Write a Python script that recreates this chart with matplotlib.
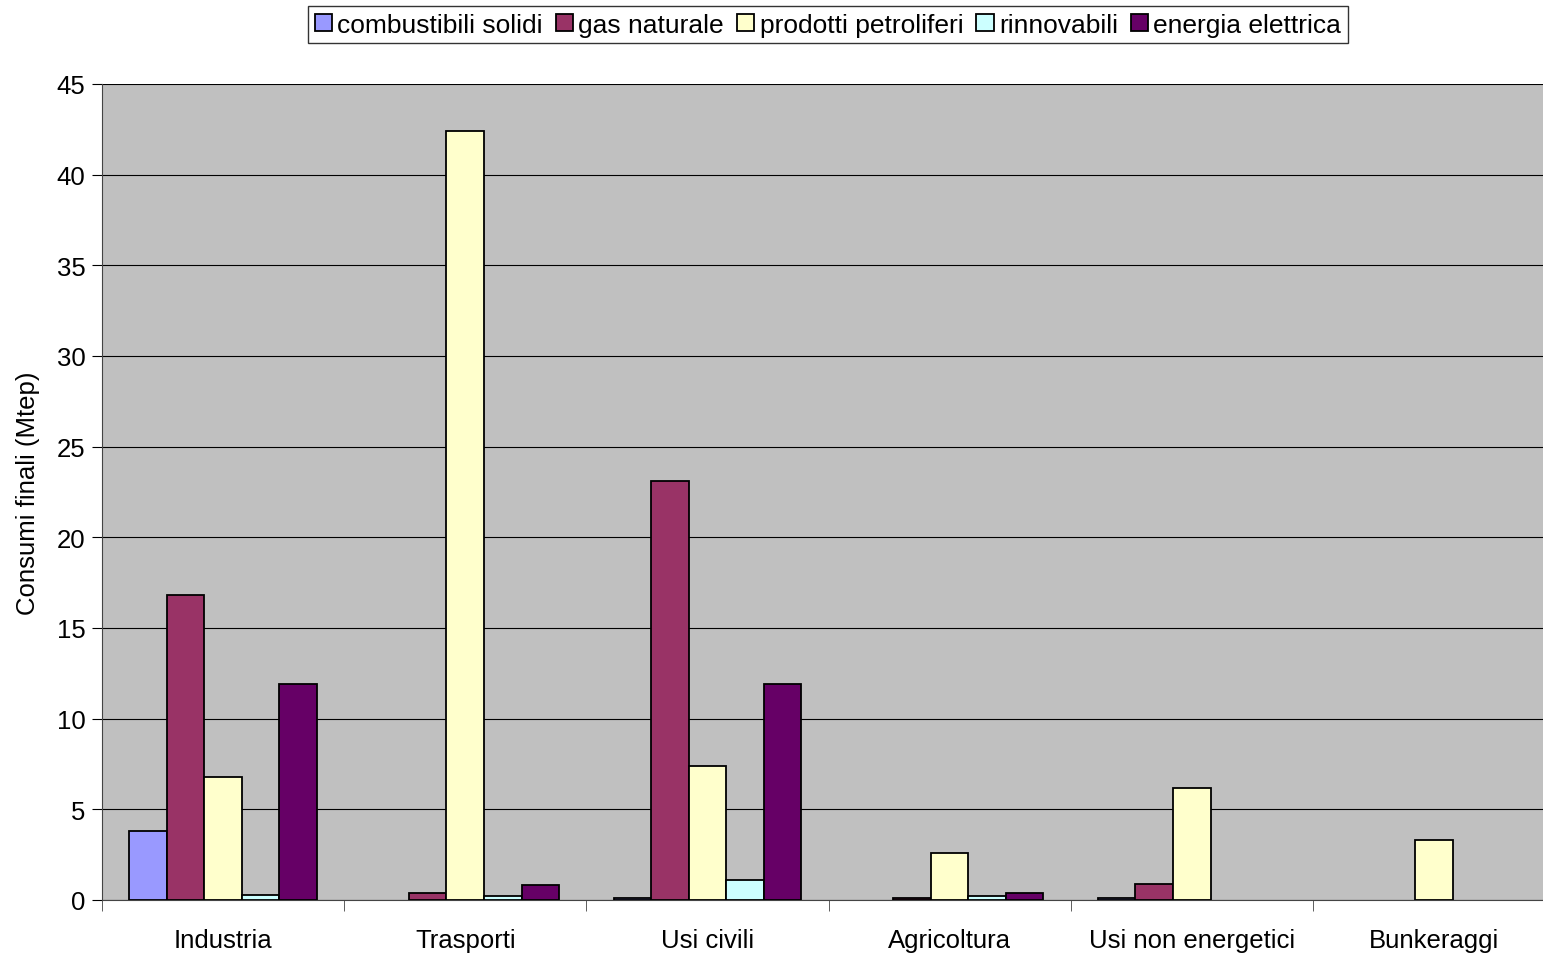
import numpy as np
from matplotlib import pyplot as plt

plt.rcParams['font.family'] = ['Liberation Sans', 'DejaVu Sans']

settori = ['Industria', 'Trasporti', 'Usi civili', 'Agricoltura',
           'Usi non energetici', 'Bunkeraggi']
fonti = ['combustibili solidi', 'gas naturale', 'prodotti petroliferi',
         'rinnovabili', 'energia elettrica']
combustibili_solidi = [3.8, 0.0, 0.1, 0.0, 0.1, 0.0]
gas_naturale = [16.8, 0.4, 23.1, 0.1, 0.9, 0.0]
prodotti_petroliferi = [6.8, 42.4, 7.4, 2.6, 6.2, 3.3]
rinnovabili = [0.3, 0.2, 1.1, 0.2, 0.0, 0.0]
energia_elettrica = [11.9, 0.8, 11.9, 0.4, 0.0, 0.0]
colori = ['#9999FF', '#993366', '#FFFFCC', '#CCFFFF', '#660066']

serie = [combustibili_solidi, gas_naturale, prodotti_petroliferi,
         rinnovabili, energia_elettrica]

fig = plt.figure(figsize=(15.43, 9.54), dpi=100)
# l'area del grafico continua oltre il bordo destro, come nell'originale
ax = fig.add_axes([102 / 1543, 53 / 954, 1453 / 1543, 816 / 954])
ax.set_facecolor('#C0C0C0')

x = np.arange(len(settori))
w = 1 / 6.45
for i, (vals, nome, col) in enumerate(zip(serie, fonti, colori)):
    vals = np.array(vals)
    pos = x + (i - 2) * w
    m = vals > 0  # i valori nulli non vengono disegnati
    ax.bar(pos[m], vals[m], width=w, color=col, edgecolor='black',
           linewidth=1.3, label=nome, zorder=3)

ax.set_xlim(-0.5, len(settori) - 0.5)
ax.set_ylim(0, 45)
ax.set_yticks(np.arange(0, 46, 5))
ax.yaxis.grid(True, color='black', linewidth=0.8, zorder=0)
ax.set_axisbelow(True)

ax.set_xticks(x)
ax.set_xticklabels(settori, fontsize=18.5)
ax.set_xticks(np.arange(-0.5, len(settori), 1), minor=True)
ax.tick_params(axis='x', which='major', length=0, pad=20)
ax.tick_params(axis='x', which='minor', length=8, direction='out', color='#444444')
ax.tick_params(axis='y', labelsize=18.5, length=7, direction='out', pad=5)

for s in ['top', 'right']:
    ax.spines[s].set_visible(False)
ax.spines['left'].set_color('#444444')
ax.spines['bottom'].set_color('#444444')

ax.set_ylabel('Consumi finali (Mtep)', fontsize=18.5, labelpad=12)

leg = fig.legend(loc='upper center', bbox_to_anchor=(828 / 1543, 1 - 7 / 954),
                 ncol=5, fontsize=19, frameon=True, fancybox=False,
                 edgecolor='black', handlelength=0.65, handleheight=0.65,
                 handletextpad=0.2, columnspacing=0.5, borderpad=0.25,
                 borderaxespad=0)
leg.get_frame().set_linewidth(1.0)

plt.savefig('out.png', dpi=100)
